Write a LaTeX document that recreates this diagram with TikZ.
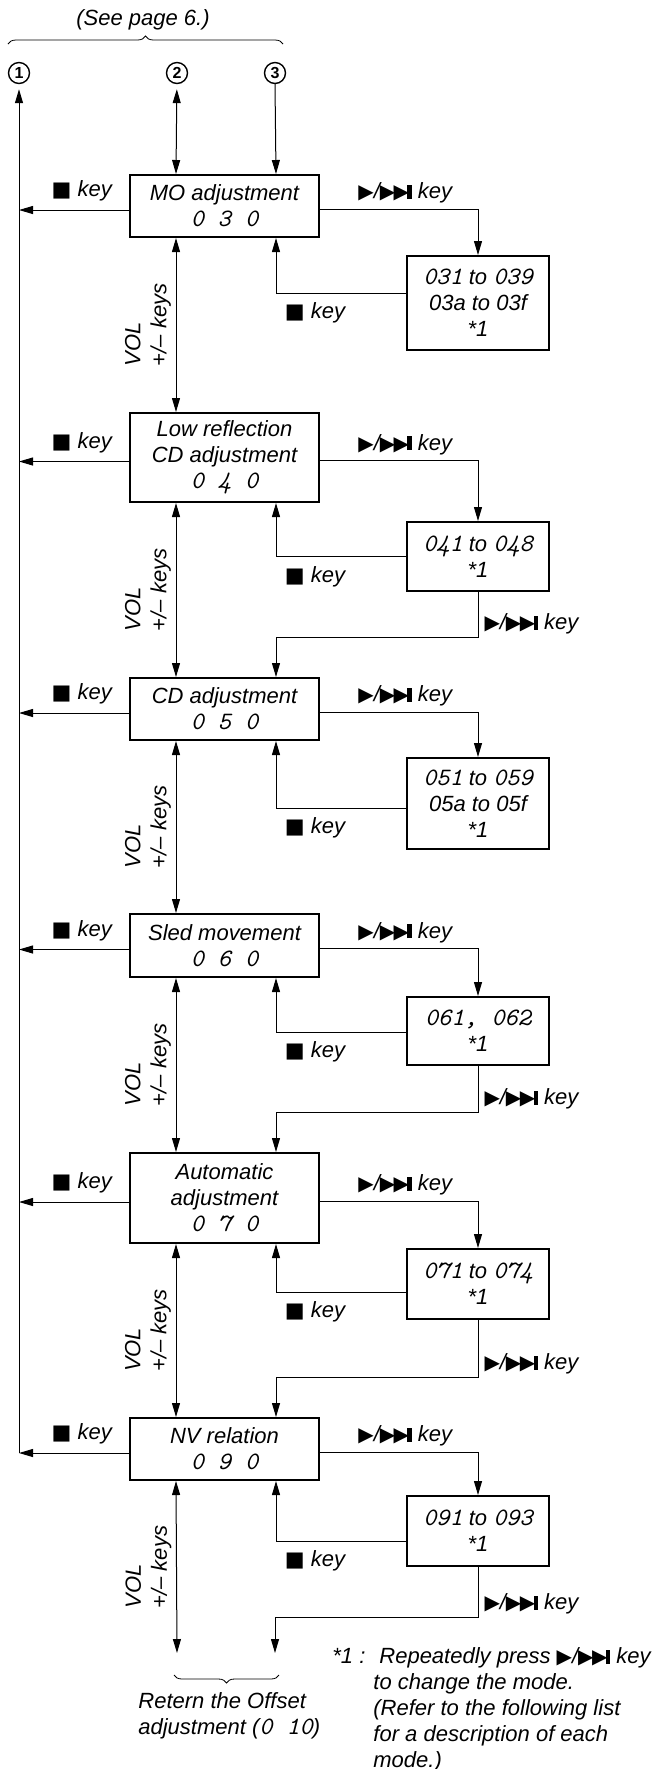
\documentclass[tikz,border=0pt]{standalone}
\usepackage{fontspec}
\setmainfont{Liberation Sans}
\newfontfamily\keyfont{DejaVu Sans}
\usetikzlibrary{arrows.meta,decorations.pathreplacing}

\newcommand{\segtxt}[1]{{\ttfamily\itshape\fontsize{12.5}{13}\selectfont\spaceskip=7pt\relax #1}}
\newcommand{\stopkey}{{\keyfont\upshape\fontsize{10.5}{10.5}\selectfont ■}~key}
\newcommand{\nextkey}{{\keyfont\upshape\fontsize{10}{10}\selectfont ▶}/{\keyfont\upshape\fontsize{10}{10}\selectfont ▶\kern-0.8pt▶\kern-0.8pt}\rule{2.2pt}{7pt}~key}

\begin{document}
\begin{tikzpicture}[x=0.5pt,y=-0.5pt,
	every node/.style={font=\fontsize{11}{13}\selectfont\itshape},
	mainbox/.style={draw, line width=1pt, minimum width=94.5pt, align=center, inner sep=0pt},
	subbox/.style={draw, line width=1pt, minimum width=71pt, align=center, inner sep=0pt},
	conn/.style={line width=0.5pt, -{Triangle[length=7pt,width=4pt]}},
	both/.style={line width=0.5pt, {Triangle[length=7pt,width=4pt]}-{Triangle[length=7pt,width=4pt]}},
	num/.style={circle, draw, line width=0.7pt, inner sep=0pt, minimum size=10.5pt, font=\fontsize{8}{8}\selectfont\bfseries},
	keylbl/.style={inner sep=1pt},
	vol/.style={xshift=-14pt, rotate=90, align=left, inner sep=0pt}]
	\useasboundingbox (0,0) rectangle (664,1769);

	% top: reference to page 6
	\node (seepage) at (143,20) {(See page 6.)};
	\draw[decorate, decoration={brace, amplitude=4pt}] (8,44) -- (283,44);
	\node[num] (c1) at (19,73) {1};
	\node[num] (c2) at (177,73) {2};
	\node[num] (c3) at (275,73) {3};

	% mode boxes
	\node[mainbox, minimum height=31pt] (mo) at (224.5,206) {MO adjustment\\\segtxt{0 3 0}};
	\node[mainbox, minimum height=44.5pt] (low) at (224.5,457.5) {Low reflection\\CD adjustment\\\segtxt{0 4 0}};
	\node[mainbox, minimum height=31pt] (cd) at (224.5,709) {CD adjustment\\\segtxt{0 5 0}};
	\node[mainbox, minimum height=31.5pt] (sled) at (224.5,945.5) {Sled movement\\\segtxt{0 6 0}};
	\node[mainbox, minimum height=45pt] (autoadj) at (224.5,1198) {Automatic\\adjustment\\\segtxt{0 7 0}};
	\node[mainbox, minimum height=31pt] (nv) at (224.5,1449) {NV relation\\\segtxt{0 9 0}};

	% sub modes
	\node[subbox, minimum height=47pt] (msub) at (478,303) {\segtxt{031} \itshape to \segtxt{039}\\\itshape 03a to 03f\\\itshape *1};
	\node[subbox, minimum height=34.5pt] (lsub) at (478,556.5) {\segtxt{041} \itshape to \segtxt{048}\\\itshape *1};
	\node[subbox, minimum height=45.5pt] (csub) at (478,803.5) {\segtxt{051} \itshape to \segtxt{059}\\\itshape 05a to 05f\\\itshape *1};
	\node[subbox, minimum height=34pt] (ssub) at (478,1031) {\segtxt{061, 062}\\\itshape *1};
	\node[subbox, minimum height=35pt] (asub) at (478,1284) {\segtxt{071} \itshape to \segtxt{074}\\\itshape *1};
	\node[subbox, minimum height=35pt] (nsub) at (478,1531) {\segtxt{091} \itshape to \segtxt{093}\\\itshape *1};

	\coordinate (endvol) at (177,1653);
	\coordinate (endret) at (275,1653);

	% lines from the top
	\draw[conn, shorten >=2.5pt] ([yshift=-2pt]nv.west -| c1) -- (c1);
	\draw[both, shorten <=2.5pt] (c2) -- ([xshift=23.5pt]mo.north west);
	\draw[conn] (c3.south) -- ([xshift=-22pt]mo.north east);

	% stop key back to 1
	\draw[conn] ([yshift=-2pt]mo.west) -- node[keylbl, pos=0.43, yshift=9.5pt] {\stopkey} ([yshift=-2pt]mo.west -| c1);
	\draw[conn] ([yshift=-2pt]low.west) -- node[keylbl, pos=0.43, yshift=9.5pt] {\stopkey} ([yshift=-2pt]low.west -| c1);
	\draw[conn] ([yshift=-2pt]cd.west) -- node[keylbl, pos=0.43, yshift=9.5pt] {\stopkey} ([yshift=-2pt]cd.west -| c1);
	\draw[conn] ([yshift=-2pt]sled.west) -- node[keylbl, pos=0.43, yshift=9.5pt] {\stopkey} ([yshift=-2pt]sled.west -| c1);
	\draw[conn] ([yshift=-2pt]autoadj.west) -- node[keylbl, pos=0.43, yshift=9.5pt] {\stopkey} ([yshift=-2pt]autoadj.west -| c1);
	\draw[conn] ([yshift=-2pt]nv.west) -- node[keylbl, pos=0.43, yshift=9.5pt] {\stopkey} ([yshift=-2pt]nv.west -| c1);

	% VOL +/- keys
	\draw[both] ([xshift=23.5pt]mo.south west) -- node[vol] {VOL\\+/-- keys} ([xshift=23.5pt]low.north west);
	\draw[both] ([xshift=23.5pt]low.south west) -- node[vol] {VOL\\+/-- keys} ([xshift=23.5pt]cd.north west);
	\draw[both] ([xshift=23.5pt]cd.south west) -- node[vol] {VOL\\+/-- keys} ([xshift=23.5pt]sled.north west);
	\draw[both] ([xshift=23.5pt]sled.south west) -- node[vol] {VOL\\+/-- keys} ([xshift=23.5pt]autoadj.north west);
	\draw[both] ([xshift=23.5pt]autoadj.south west) -- node[vol] {VOL\\+/-- keys} ([xshift=23.5pt]nv.north west);
	\draw[both] ([xshift=23.5pt]nv.south west) -- node[vol] {VOL\\+/-- keys} (endvol);

	% play key into the sub modes
	\draw[conn] ([yshift=-1.5pt]mo.east) -| node[keylbl, pos=0.27, yshift=8pt] {\nextkey} (msub.north);
	\draw[conn] ([yshift=-1.5pt]low.east) -| node[keylbl, pos=0.27, yshift=8pt] {\nextkey} (lsub.north);
	\draw[conn] ([yshift=-1.5pt]cd.east) -| node[keylbl, pos=0.27, yshift=8pt] {\nextkey} (csub.north);
	\draw[conn] ([yshift=-1.5pt]sled.east) -| node[keylbl, pos=0.27, yshift=8pt] {\nextkey} (ssub.north);
	\draw[conn] ([yshift=-1.5pt]autoadj.east) -| node[keylbl, pos=0.27, yshift=8pt] {\nextkey} (asub.north);
	\draw[conn] ([yshift=-1.5pt]nv.east) -| node[keylbl, pos=0.27, yshift=8pt] {\nextkey} (nsub.north);

	% stop key back from the sub modes
	\draw[conn] ([yshift=5pt]msub.west) -| node[keylbl, pos=0.35, yshift=-10pt] {\stopkey} ([xshift=-22pt]mo.south east);
	\draw[conn] (lsub.west) -| node[keylbl, pos=0.35, yshift=-10pt] {\stopkey} ([xshift=-22pt]low.south east);
	\draw[conn] ([yshift=-2.25pt]csub.west) -| node[keylbl, pos=0.35, yshift=-10pt] {\stopkey} ([xshift=-22pt]cd.south east);
	\draw[conn] ([yshift=-0.5pt]ssub.west) -| node[keylbl, pos=0.35, yshift=-10pt] {\stopkey} ([xshift=-22pt]sled.south east);
	\draw[conn] ([yshift=-4pt]asub.west) -| node[keylbl, pos=0.35, yshift=-10pt] {\stopkey} ([xshift=-22pt]autoadj.south east);
	\draw[conn] ([yshift=-5pt]nsub.west) -| node[keylbl, pos=0.35, yshift=-10pt] {\stopkey} ([xshift=-22pt]nv.south east);

	% play key on to the next mode
	\draw[conn] (lsub.south) |- node[keylbl, pos=0.5, anchor=south west, xshift=2pt] {\nextkey} ([xshift=-22pt,yshift=20pt]cd.north east) -- ([xshift=-22pt]cd.north east);
	\draw[conn] (ssub.south) |- node[keylbl, pos=0.5, anchor=south west, xshift=2pt] {\nextkey} ([xshift=-22pt,yshift=20pt]autoadj.north east) -- ([xshift=-22pt]autoadj.north east);
	\draw[conn] (asub.south) |- node[keylbl, pos=0.5, anchor=south west, xshift=2pt] {\nextkey} ([xshift=-22pt,yshift=20pt]nv.north east) -- ([xshift=-22pt]nv.north east);
	\draw[conn] (nsub.south) |- node[keylbl, pos=0.5, anchor=south west, xshift=2pt] {\nextkey} ([yshift=18pt]endret) -- (endret);

	% bottom
	\draw[decorate, decoration={brace, amplitude=4pt}] (279,1675) -- (174,1675);
	\node[anchor=north west, inner sep=0pt, align=left] (retern) at (138,1692) {Retern the Offset\\adjustment (\segtxt{0 10})};
	\node[anchor=north west, inner sep=0pt] (fnote) at (332,1645) {\begin{tabular}{@{}l@{\hspace{4pt}}l@{}}
		*1 : & \hspace*{3pt}Repeatedly press \nextkey\\
		& to change the mode.\\
		& (Refer to the following list\\
		& for a description of each\\
		& mode.)
	\end{tabular}};
\end{tikzpicture}
\end{document}
